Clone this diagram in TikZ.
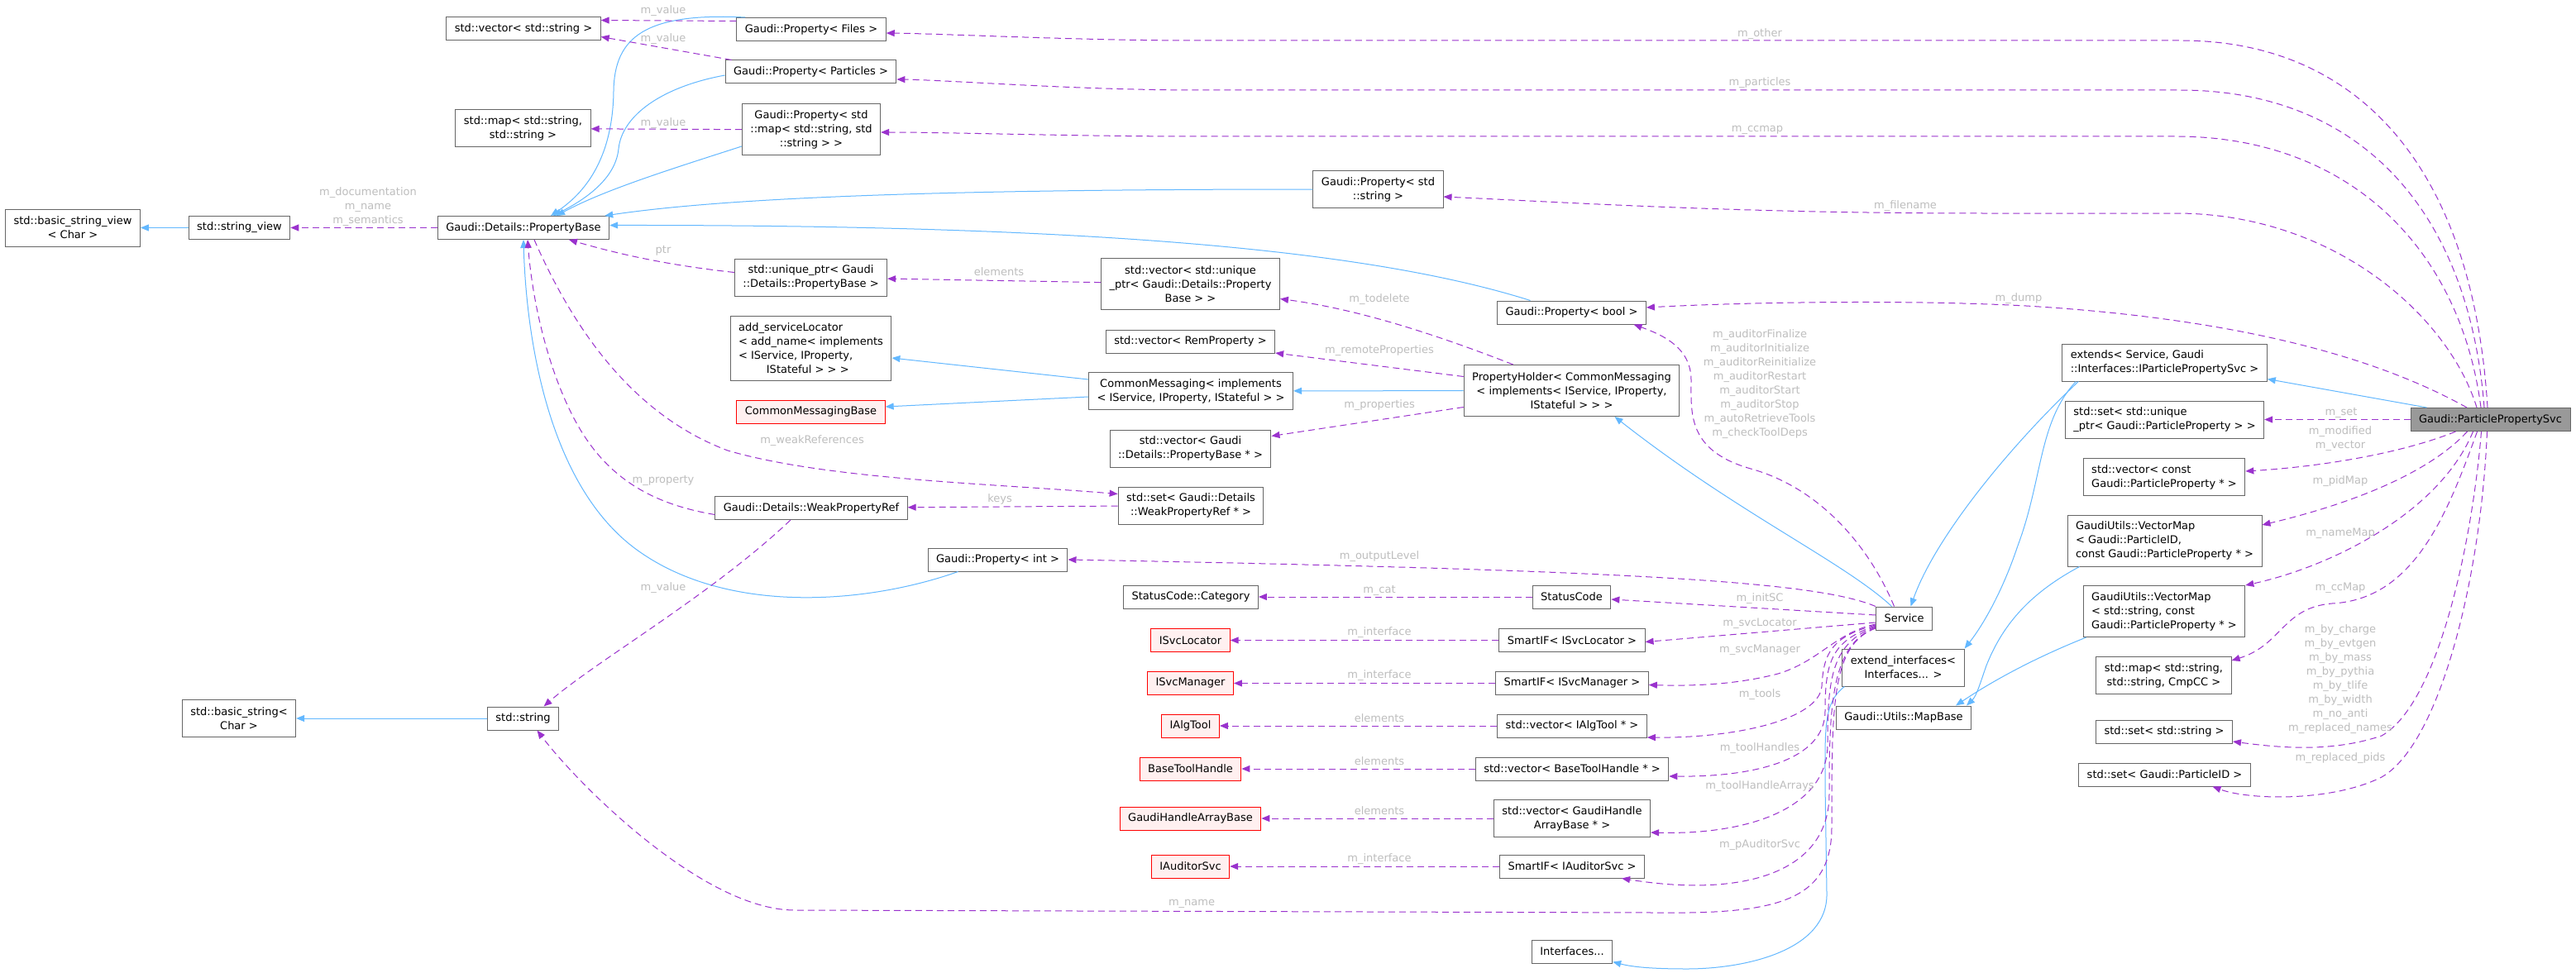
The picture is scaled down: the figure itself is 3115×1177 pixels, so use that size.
\documentclass[tikz,border=0pt]{standalone}
\usepackage{fontspec}
\setmainfont{DejaVu Sans}
\usetikzlibrary{arrows.meta}
\definecolor{edgeblue}{HTML}{63B8FF}
\definecolor{edgepurple}{HTML}{9A32CD}
\definecolor{boxgray}{HTML}{666666}
\definecolor{labelgray}{HTML}{BEBEBE}
\definecolor{extred}{HTML}{FF0000}
\definecolor{extfill}{HTML}{FFF0F0}
\definecolor{svcfill}{HTML}{999999}
\newcommand{\dxsize}{\fontsize{13}{17}\selectfont}
\tikzset{
  cls/.style={draw=boxgray,line width=1pt,fill=white,font=\dxsize,inner xsep=10pt,
              inner ysep=2pt,minimum height=28pt,align=center},
  two/.style={minimum height=45pt},
  three/.style={minimum height=62pt},
  four/.style={minimum height=78pt},
  extcls/.style={cls,draw=extred,fill=extfill},
  svccls/.style={cls,fill=svcfill},
  inh/.style={edgeblue,line width=1pt,-{Triangle[length=10pt,width=8pt]}},
  uses/.style={edgepurple,line width=1pt,dash pattern=on 8pt off 5pt,
               -{Triangle[length=10pt,width=8pt]}},
  lbl/.style={font=\dxsize,text=labelgray,inner sep=0pt,align=center}
}

\begin{document}
\begin{tikzpicture}[x=1pt,y=-1pt]
  \fill[white] (0,0) rectangle (3115,1177);
  \useasboundingbox (0,0) rectangle (3115,1177);

  % property side
  \node[cls,two] (bsv) at (88,275.5) {std::basic\_string\_view\\< Char >};
  \node[cls] (strview) at (289.5,275.5) {std::string\_view};
  \node[cls] (propbase) at (633,275.5) {Gaudi::Details::PropertyBase};
  \node[cls] (vecstr) at (633,34.5) {std::vector< std::string >};
  \node[cls,two] (mapstr) at (632.5,155.5) {std::map< std::string,\\std::string >};
  \node[cls] (propfiles) at (981,35.5) {Gaudi::Property< Files >};
  \node[cls] (propparticles) at (980.5,87) {Gaudi::Property< Particles >};
  \node[cls,three] (propmap) at (981,157) {Gaudi::Property< std\\::map< std::string, std\\::string > >};
  \node[cls,two] (propstring) at (1666.5,229) {Gaudi::Property< std\\::string >};
  \node[cls,two] (uniqueptr) at (980.5,335.5) {std::unique\_ptr< Gaudi\\::Details::PropertyBase >};
  \node[cls,three] (vecunique) at (1439.5,343.5) {std::vector< std::unique\\\_ptr< Gaudi::Details::Property\\Base > >};
  \node[cls,four,align=left] (addsvcloc) at (980.5,421) {add\_serviceLocator\\< add\_name< implements\\< IService, IProperty,\\\hspace*{2.6em}IStateful > > >};
  \node[cls] (vecrem) at (1439.5,413) {std::vector< RemProperty >};
  \node[cls] (propbool) at (1900.5,378) {Gaudi::Property< bool >};
  \node[cls,three] (propholder) at (1900.5,472.5) {PropertyHolder< CommonMessaging\\< implements< IService, IProperty,\\IStateful > > >};
  \node[cls,two] (commsg) at (1440,473) {CommonMessaging< implements\\< IService, IProperty, IStateful > >};
  \node[extcls] (commsgbase) at (980.5,498) {CommonMessagingBase};
  \node[cls,two] (vecpropbase) at (1439.5,542.5) {std::vector< Gaudi\\::Details::PropertyBase * >};
  \node[cls,two] (setweak) at (1440,611.5) {std::set< Gaudi::Details\\::WeakPropertyRef * >};
  \node[cls] (weakref) at (981,614.5) {Gaudi::Details::WeakPropertyRef};
  \node[cls] (propint) at (1206.5,677) {Gaudi::Property< int >};
  \node[cls] (sccat) at (1440,722) {StatusCode::Category};
  \node[cls] (statuscode) at (1900.5,722) {StatusCode};
  \node[cls] (interfaces) at (1901,1151) {Interfaces...};
  \node[cls] (stdstring) at (632.5,869) {std::string};
  \node[cls,two] (bstring) at (289,869) {std::basic\_string<\\Char >};

  % service side
  \node[cls] (service) at (2302.5,748) {Service};
  \node[cls,two] (extendif) at (2301.5,807.5) {extend\_interfaces<\\Interfaces... >};
  \node[cls] (mapbase) at (2302,868) {Gaudi::Utils::MapBase};
  \node[cls,two,align=left] (extends) at (2617.5,438.5) {extends< Service, Gaudi\\::Interfaces::IParticlePropertySvc >};
  \node[svccls] (ppsvc) at (3011.5,507.5) {Gaudi::ParticlePropertySvc};
  \node[cls,two,align=left] (setunique) at (2617.5,507.5) {std::set< std::unique\\\_ptr< Gaudi::ParticleProperty > >};
  \node[cls,two,align=left] (vecconst) at (2617,577) {std::vector< const\\ Gaudi::ParticleProperty * >};
  \node[cls,three,align=left] (vmap1) at (2617.5,654) {GaudiUtils::VectorMap\\< Gaudi::ParticleID,\\ const Gaudi::ParticleProperty * >};
  \node[cls,three,align=left] (vmap2) at (2617,739.5) {GaudiUtils::VectorMap\\< std::string, const\\ Gaudi::ParticleProperty * >};
  \node[cls,two] (mapcc) at (2616.5,817) {std::map< std::string,\\std::string, CmpCC >};
  \node[cls] (setstr) at (2617,885) {std::set< std::string >};
  \node[cls] (setpid) at (2617.5,937) {std::set< Gaudi::ParticleID >};

  % interface rows: external class, holder, member edge
  \foreach \ename/\cname/\yy/\hh/\etext/\ctext/\lab in {
      isvcloc/smartloc/774.5/28/ISvcLocator/{SmartIF< ISvcLocator >}/m\_interface,
      isvcmgr/smartmgr/826.5/28/ISvcManager/{SmartIF< ISvcManager >}/m\_interface,
      ialgtool/vecalg/878/28/IAlgTool/{std::vector< IAlgTool * >}/elements,
      basetool/vecbasetool/930/28/BaseToolHandle/{std::vector< BaseToolHandle * >}/elements,
      gharray/vecgh/990/45/GaudiHandleArrayBase/{std::vector< GaudiHandle\\ArrayBase * >}/elements,
      iauditor/smartaud/1048/28/IAuditorSvc/{SmartIF< IAuditorSvc >}/m\_interface}{
    \node[extcls] (\ename) at (1439.5,\yy) {\etext};
    \node[cls,minimum height=\hh pt] (\cname) at (1901,\yy) {\ctext};
    \draw[uses] (\cname) -- (\ename);
    \node[lbl] (l-\cname) at (1668,{\yy-9}) {\lab};
  }

  % inheritance
  \draw[inh] (strview) -- (bsv);
  \draw[inh] (stdstring) -- (bstring);
  \draw[inh] ([xshift=11pt]propfiles.north west) .. controls (780,15) and (743,45) .. (742,110)
             .. controls (741,200) and (700,238) .. ([xshift=33pt]propbase.north);
  \draw[inh] ([yshift=-4pt]propparticles.west) .. controls (800,105) and (752,140) .. (748,180)
             .. controls (744,220) and (700,245) .. ([xshift=36pt]propbase.north);
  \draw[inh] ([yshift=-20pt]propmap.west) .. controls (810,205) and (730,230) .. ([xshift=40pt]propbase.north);
  \draw[inh] (propstring.west) .. controls (1200,229) and (900,236) .. ([xshift=-6pt]propbase.north east);
  \draw[inh] ([xshift=-50pt]propbool.north) .. controls (1650,300) and (1300,272) .. ([yshift=3pt]propbase.east);
  \draw[inh] ([xshift=-48pt]propint.south) .. controls (1050,730) and (880,745) .. (770,665)
             .. controls (660,585) and (636,400) .. (propbase.south);
  \draw[inh] ([yshift=14pt]commsg.west) -- ([yshift=-12pt]addsvcloc.east);
  \draw[inh] ([yshift=-7pt]commsg.west) -- ([yshift=6pt]commsgbase.east);
  \draw[inh] (propholder) -- (commsg);
  \draw[inh] ([xshift=-15pt]service.north) .. controls (2230,680) and (2100,620) .. ([xshift=52pt]propholder.south);
  \draw[inh] ([xshift=20pt]extends.south west) .. controls (2430,540) and (2340,650) .. ([xshift=8pt]service.north);
  \draw[inh] ([xshift=17pt]extends.south west) .. controls (2465,510) and (2470,580) .. (2440,660)
             .. controls (2420,720) and (2395,760) .. (extendif.north east);
  \draw[inh] ([xshift=3pt]extendif.south west) .. controls (2205,850) and (2207,880) .. (2207,950)
             -- (2209,1080) .. controls (2211,1150) and (2110,1172) .. (2040,1172)
             .. controls (2000,1172) and (1975,1170) .. ([yshift=2pt]interfaces.south east);
  \draw[inh] ([xshift=20pt]ppsvc.north west) -- ([yshift=3pt]extends.south east);
  \draw[inh] ([xshift=15pt]vmap1.south west) .. controls (2450,720) and (2420,760) .. (2402,805)
             .. controls (2395,825) and (2390,842) .. ([xshift=76pt]mapbase.north);
  \draw[inh] ([xshift=4pt]vmap2.south west) .. controls (2450,800) and (2400,830) .. ([xshift=63pt]mapbase.north);

  % members, property side
  \draw[uses] (propbase) -- (strview);
  \draw[uses] ([yshift=10pt]propfiles.west) -- ([yshift=10pt]vecstr.east);
  \draw[uses] ([xshift=8pt]propparticles.north west) -- ([yshift=-10pt]vecstr.east);
  \draw[uses] (propmap) -- (mapstr);
  \draw[uses] ([yshift=6pt]uniqueptr.west) .. controls (800,320) and (740,305) .. ([xshift=55pt]propbase.south);
  \draw[uses] (vecunique) -- (uniqueptr);
  \draw[uses] ([xshift=60pt]propholder.north west) .. controls (1750,410) and (1650,375) .. ([yshift=-18pt]vecunique.east);
  \draw[uses] ([yshift=17pt]propholder.west) -- ([yshift=-14pt]vecrem.east);
  \draw[uses] ([yshift=-20pt]propholder.west) -- ([yshift=15pt]vecpropbase.east);
  \draw[uses] ([xshift=13pt]propbase.south) .. controls (690,390) and (760,500) .. (880,545)
              .. controls (1000,580) and (1200,585) .. ([yshift=14pt]setweak.west);
  \draw[uses] (setweak) -- (weakref);
  \draw[uses] ([yshift=-8pt]weakref.west) .. controls (790,610) and (740,580) .. (705,525)
              .. controls (670,470) and (645,380) .. ([xshift=5pt]propbase.south);
  \draw[uses] ([xshift=-25pt]weakref.south) .. controls (860,720) and (720,800) .. ([xshift=25pt]stdstring.north);
  \draw[uses] (statuscode) -- (sccat);

  % members, service side
  \draw[uses] (service.north west) .. controls (2200,705) and (2000,690) .. (propint.east);
  \draw[uses] ([xshift=-12pt]service.north) .. controls (2260,660) and (2200,590) .. (2117,567)
              .. controls (2040,545) and (2045,500) .. (2045,460)
              .. controls (2045,420) and (2010,405) .. ([xshift=75pt]propbool.south);
  \draw[uses] ([yshift=4pt]service.west) -- ([yshift=-3pt]statuscode.east);
  \draw[uses] ([yshift=-5pt]service.west) -- ([yshift=-2pt]smartloc.east);
  \draw[uses] ([yshift=-7pt]service.west) .. controls (2220,765) and (2200,800) .. (2150,815)
              .. controls (2100,828) and (2050,830) .. ([yshift=-2pt]smartmgr.east);
  \draw[uses] ([yshift=-8pt]service.west) .. controls (2215,770) and (2205,790) .. (2203,830)
              .. controls (2200,870) and (2100,893) .. ([yshift=-14pt]vecalg.east);
  \draw[uses] ([yshift=-9pt]service.west) .. controls (2215,775) and (2207,800) .. (2207,860)
              .. controls (2207,920) and (2120,940) .. ([yshift=-9pt]vecbasetool.east);
  \draw[uses] ([yshift=-10pt]service.west) .. controls (2215,778) and (2210,820) .. (2210,900)
              .. controls (2210,980) and (2110,1010) .. ([yshift=-17pt]vecgh.east);
  \draw[uses] ([yshift=-11pt]service.west) .. controls (2215,780) and (2212,850) .. (2212,960)
              .. controls (2212,1060) and (2100,1085) .. ([xshift=60pt]smartaud.south);
  \draw[uses] ([yshift=-12pt]service.west) .. controls (2215,780) and (2215,850) .. (2215,1000)
              .. controls (2215,1090) and (2150,1106) .. (2000,1104) -- (960,1101)
              .. controls (850,1100) and (700,950) .. ([xshift=17pt]stdstring.south);

  % members of the particle property service
  \draw[uses] ([xshift=-3.5pt]ppsvc.north) .. controls (2990,200) and (2850,49) .. (2637,49) -- (1450,49)
              .. controls (1300,49) and (1150,41) .. ([yshift=-4.5pt]propfiles.east);
  \draw[uses] ([xshift=-7.5pt]ppsvc.north) .. controls (2985,250) and (2850,109) .. (2636,109) -- (1450,109)
              .. controls (1300,109) and (1150,97) .. ([yshift=-9pt]propparticles.east);
  \draw[uses] ([xshift=-11.5pt]ppsvc.north) .. controls (2975,300) and (2840,165) .. (2631,165) -- (1450,165)
              .. controls (1300,165) and (1150,160) .. ([yshift=-3pt]propmap.east);
  \draw[uses] ([xshift=-16.5pt]ppsvc.north) .. controls (2960,380) and (2820,258) .. (2631,258) -- (2400,258)
              .. controls (2100,258) and (1900,245) .. ([yshift=-9pt]propstring.east);
  \draw[uses] ([xshift=-28.5pt]ppsvc.north) .. controls (2870,430) and (2700,385) .. (2450,370)
              .. controls (2300,362) and (2100,366) .. ([yshift=6pt]propbool.east);
  \draw[uses] (ppsvc) -- (setunique);
  \draw[uses] ([xshift=-42pt]ppsvc.south) .. controls (2900,550) and (2800,565) .. ([yshift=7pt]vecconst.east);
  \draw[uses] ([xshift=-28pt]ppsvc.south) .. controls (2930,580) and (2820,615) .. ([yshift=19pt]vmap1.east);
  \draw[uses] ([xshift=-21pt]ppsvc.south) .. controls (2950,620) and (2820,685) .. (vmap2.north east);
  \draw[uses] ([xshift=-16pt]ppsvc.south) .. controls (2960,620) and (2920,725) .. (2820,730)
              .. controls (2760,735) and (2760,780) .. ([yshift=-5pt]mapcc.north east);
  \draw[uses] ([xshift=-11pt]ppsvc.south) .. controls (2990,650) and (2950,850) .. (2880,890)
              .. controls (2820,910) and (2760,905) .. ([yshift=-12pt]setstr.east);
  \draw[uses] ([xshift=-4pt]ppsvc.south) .. controls (3000,700) and (2950,900) .. (2880,940)
              .. controls (2820,970) and (2720,968) .. ([xshift=58pt]setpid.south);

  % edge labels
  \node[lbl] (l-docs) at (445,250) {m\_documentation\\m\_name\\m\_semantics};
  \node[lbl] (l-vstr1) at (802,13) {m\_value};
  \node[lbl] (l-vstr2) at (802,47) {m\_value};
  \node[lbl] (l-mstr) at (802,149) {m\_value};
  \node[lbl] (l-ptr) at (802,303) {ptr};
  \node[lbl] (l-elem) at (1208,329) {elements};
  \node[lbl] (l-todelete) at (1668,362) {m\_todelete};
  \node[lbl] (l-remote) at (1668,424) {m\_remoteProperties};
  \node[lbl] (l-props) at (1668,490) {m\_properties};
  \node[lbl] (l-weakrefs) at (982,533) {m\_weakReferences};
  \node[lbl] (l-property) at (802,581) {m\_property};
  \node[lbl] (l-keys) at (1209,604) {keys};
  \node[lbl] (l-strvalue) at (802,711) {m\_value};
  \node[lbl] (l-output) at (1668,673) {m\_outputLevel};
  \node[lbl] (l-cat) at (1668,714) {m\_cat};
  \node[lbl] (l-initsc) at (2128,724) {m\_initSC};
  \node[lbl] (l-svcloc) at (2128,754) {m\_svcLocator};
  \node[lbl] (l-svcmgr) at (2128,786) {m\_svcManager};
  \node[lbl] (l-tools) at (2128,840) {m\_tools};
  \node[lbl] (l-toolh) at (2128,905) {m\_toolHandles};
  \node[lbl] (l-toolha) at (2128,951) {m\_toolHandleArrays};
  \node[lbl] (l-paud) at (2128,1022) {m\_pAuditorSvc};
  \node[lbl] (l-name) at (1441,1093) {m\_name};
  \node[lbl] (l-auditors) at (2128,465) {m\_auditorFinalize\\m\_auditorInitialize\\m\_auditorReinitialize\\m\_auditorRestart\\m\_auditorStart\\m\_auditorStop\\m\_autoRetrieveTools\\m\_checkToolDeps};
  \node[lbl] (l-other) at (2128,41) {m\_other};
  \node[lbl] (l-particles) at (2128,100) {m\_particles};
  \node[lbl] (l-ccmap) at (2125,157) {m\_ccmap};
  \node[lbl] (l-filename) at (2304,249) {m\_filename};
  \node[lbl] (l-dump) at (2441,361) {m\_dump};
  \node[lbl] (l-set) at (2831,499) {m\_set};
  \node[lbl] (l-modvec) at (2830,530.5) {m\_modified\\m\_vector};
  \node[lbl] (l-pidmap) at (2830,582) {m\_pidMap};
  \node[lbl] (l-namemap) at (2830,645) {m\_nameMap};
  \node[lbl] (l-ccmap2) at (2830,711) {m\_ccMap};
  \node[lbl] (l-lookups) at (2830,821.5) {m\_by\_charge\\m\_by\_evtgen\\m\_by\_mass\\m\_by\_pythia\\m\_by\_tlife\\m\_by\_width\\m\_no\_anti\\m\_replaced\_names};
  \node[lbl] (l-reppids) at (2830,917) {m\_replaced\_pids};
\end{tikzpicture}
\end{document}
